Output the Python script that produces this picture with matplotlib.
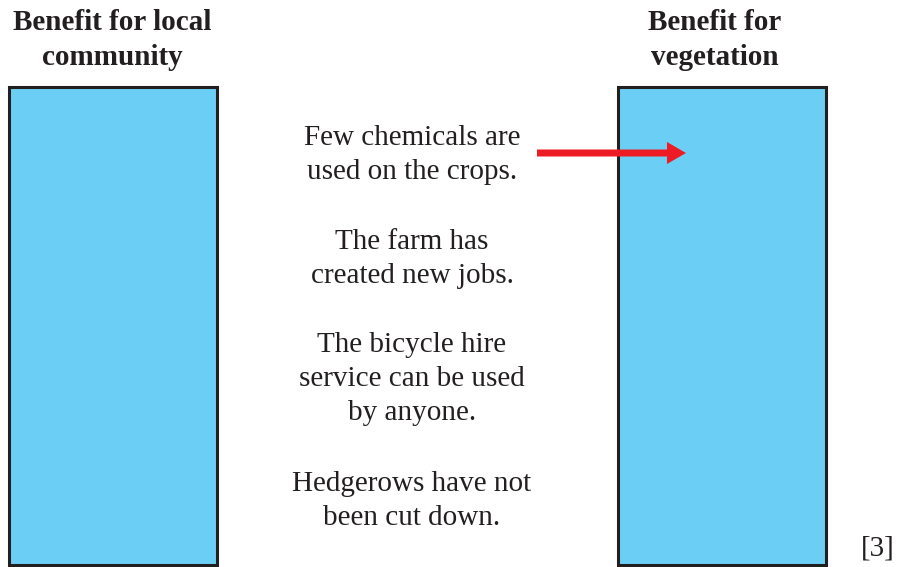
import matplotlib.pyplot as plt
from matplotlib.patches import Rectangle, FancyArrow

# texts of the sorting exercise
headings = ['Benefit for local\ncommunity', 'Benefit for\nvegetation']
statements = [
    'Few chemicals are\nused on the crops.',
    'The farm has\ncreated new jobs.',
    'The bicycle hire\nservice can be used\nby anyone.',
    'Hedgerows have not\nbeen cut down.',
]
marks = '[3]'

box_fill = '#6bcff5'
box_edge = '#231f20'
arrow_col = '#ed1c24'

plt.rcParams['font.family'] = ['Liberation Serif', 'DejaVu Serif']

fig = plt.figure(figsize=(9.21, 5.67), dpi=100)
ax = fig.add_axes([0, 0, 1, 1])
ax.set_xlim(0, 921)
ax.set_ylim(567, 0)
ax.axis('off')

# two answer boxes
box_x = [9, 618]
for x in box_x:
    ax.add_patch(Rectangle((x, 87), 208, 478, facecolor=box_fill,
                           edgecolor=box_edge, linewidth=2.2))

heading_x = [112, 715]
for x, h in zip(heading_x, headings):
    ax.text(x, 40, h, ha='center', va='center', fontsize=21,
            fontweight='bold', color='#231f20', linespacing=1.4)

statement_y = [155, 259, 379, 501]
for y, s in zip(statement_y, statements):
    ax.text(412, y, s, ha='center', va='center', fontsize=21,
            color='#231f20', linespacing=1.4)

ax.text(878, 548, marks, ha='center', va='center', fontsize=21, color='#231f20')

# example arrow
ax.add_patch(FancyArrow(537, 153, 149, 0, width=7, head_width=22,
                        head_length=19, length_includes_head=True,
                        color=arrow_col, linewidth=0))

fig.savefig('out.png', dpi=100)
